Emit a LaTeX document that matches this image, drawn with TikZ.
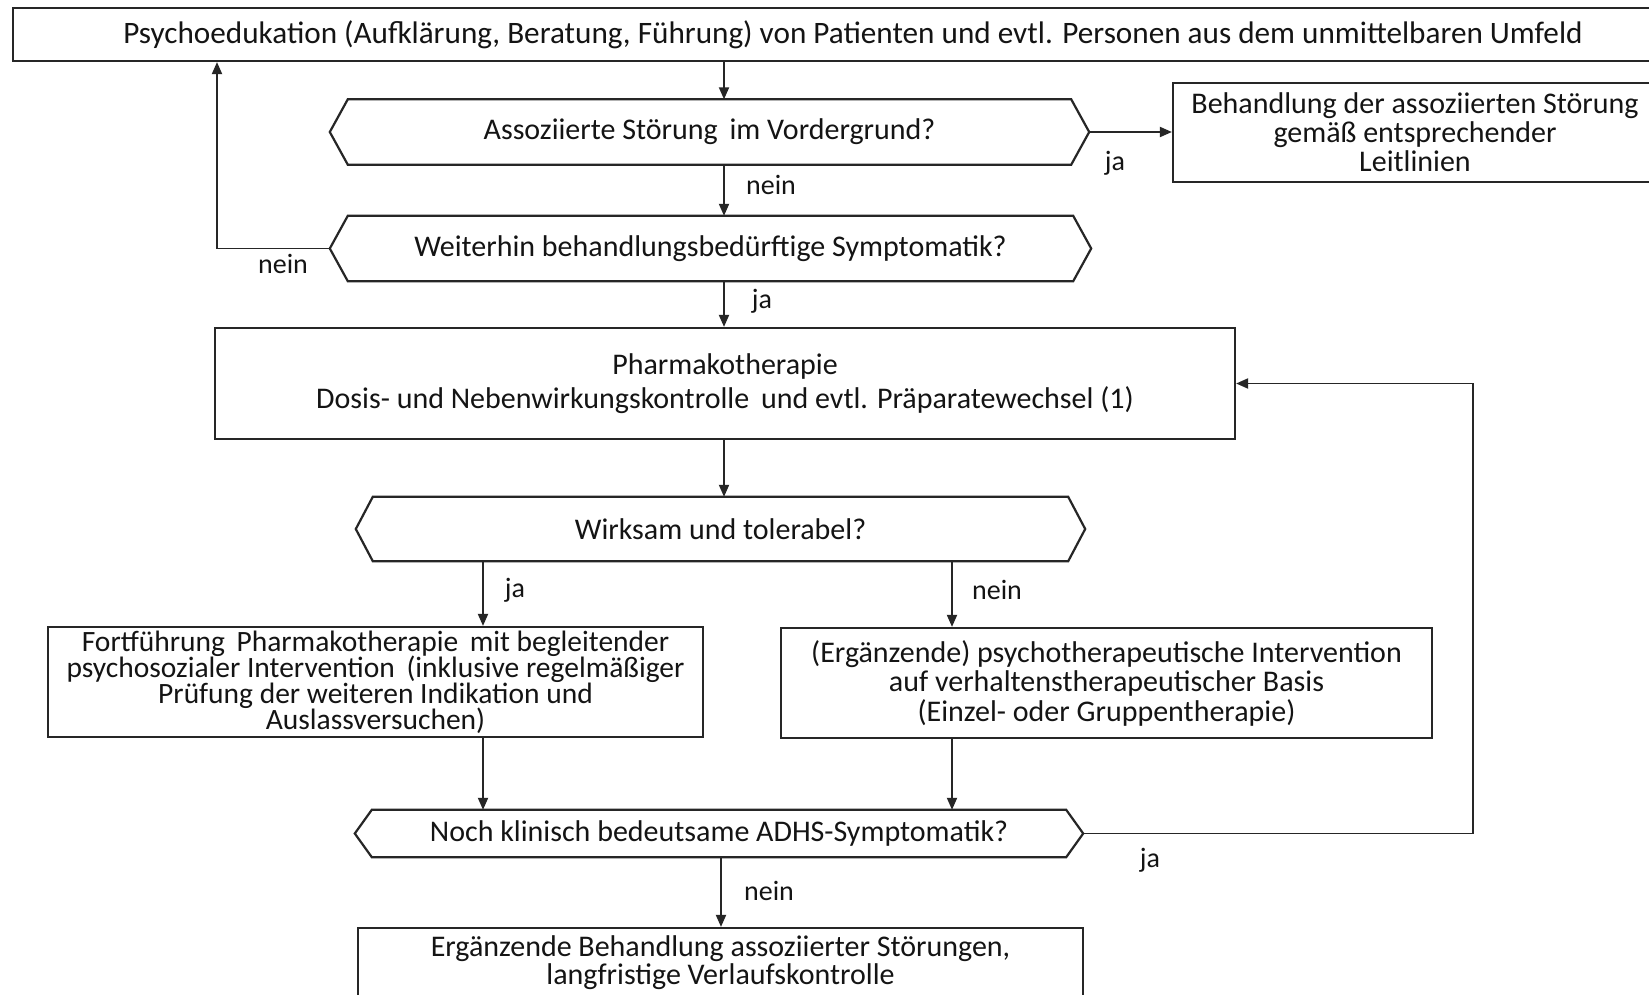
\documentclass[tikz,border=0pt]{standalone}
\usepackage{fontspec}
\setmainfont{Carlito}
\usetikzlibrary{arrows.meta,calc}
\definecolor{lc}{HTML}{262626}
\definecolor{tc}{HTML}{141414}
\newcommand\hexdraw[2]{\draw[line width=2.2pt, draw=lc] (#1.west) -- ($(#1.north west)+(#2,0)$) -- ($(#1.north east)+(-#2,0)$) -- (#1.east) -- ($(#1.south east)+(-#2,0)$) -- ($(#1.south west)+(#2,0)$) -- cycle;}
\newcommand\tightlines{\lineskiplimit-100pt\relax}
\tikzset{
  box/.style={draw=lc, line width=2.2pt, rectangle, align=center, inner sep=0pt, text=tc},
  dec/.style={rectangle, inner sep=0pt, align=center, text=tc, font=\fontsize{30}{30}\selectfont},
  conn/.style={draw=lc, line width=1.9pt, -{Triangle[length=12pt,width=10pt]}},
  lbl/.style={font=\fontsize{28}{28}\selectfont, text=tc, inner sep=0pt}
}
\begin{document}
\begin{tikzpicture}[x=1pt,y=-1pt]
\useasboundingbox (0,0) rectangle (1649,995);
\clip (0,0) rectangle (1649,995);
\fill[white] (0,0) rectangle (1649,995);

% columns
\coordinate (colA) at (724,0);
\coordinate (colL) at (217,0);
\coordinate (colB) at (483,0);
\coordinate (colC) at (952,0);
\coordinate (colD) at (721,0);
\coordinate (colR) at (1473,0);

% boxes
\node[box, minimum width=1680pt, minimum height=53pt, font=\fontsize{31.2}{31}\selectfont] (psy) at (853,34.5) {Psychoedukation (Aufklärung, Beratung, Führung) von Patienten und evtl. Personen aus dem unmittelbaren Umfeld};

\node[dec, minimum width=759pt, minimum height=65pt] (d1) at (709.5,132) {Assoziierte Störung\, im Vordergrund?};
\hexdraw{d1}{18}

\node[box, minimum width=484pt, minimum height=99pt, font=\fontsize{30}{29}\selectfont] (beh) at (1415,132.5) {Behandlung der assoziierten Störung\\gemäß entsprechender\\Leitlinien};

\node[dec, minimum width=761pt, minimum height=65pt] (d2) at (710.5,248.5) {Weiterhin behandlungsbedürftige Symptomatik?};
\hexdraw{d2}{18}

\node[box, minimum width=1020pt, minimum height=111pt, font=\fontsize{30}{34}\selectfont] (pharma) at (725,383.5) {Pharmakotherapie\\Dosis- und Nebenwirkungskontrolle\, und evtl. Präparatewechsel (1)};

\node[dec, minimum width=729pt, minimum height=64pt] (d3) at (720.5,529) {Wirksam und tolerabel?};
\hexdraw{d3}{17}

\node[box, minimum width=655pt, minimum height=110pt, font={\fontsize{29.5}{26}\selectfont\tightlines}] (fort) at (375.5,682) {Fortführung\, Pharmakotherapie\, mit begleitender\\psychosozialer Intervention\, (inklusive regelmäßiger\\Prüfung der weiteren Indikation und\\Auslassversuchen)};

\node[box, minimum width=651pt, minimum height=110pt, font=\fontsize{30}{29.5}\selectfont] (erg) at (1106.5,683) {(Ergänzende) psychotherapeutische Intervention\\auf verhaltenstherapeutischer Basis\\(Einzel- oder Gruppentherapie)};

\node[dec, minimum width=728pt, minimum height=47pt] (d4) at (719,833.5) {Noch klinisch bedeutsame ADHS-Symptomatik?};
\hexdraw{d4}{17}

\node[box, minimum width=725pt, minimum height=70pt, font=\fontsize{30}{28}\selectfont] (bot) at (720.5,963) {Ergänzende Behandlung assoziierter Störungen,\\langfristige Verlaufskontrolle};

% connectors
\draw[conn] (colA |- psy.south) -- (colA |- d1.north);
\draw[conn] (colA |- d1.south) -- (colA |- d2.north);
\draw[conn] (d1.east) -- (d1.east -| beh.west);
\draw[conn] (d2.west) -- (d2.west -| colL) -- (colL |- psy.south);
\draw[conn] (colA |- d2.south) -- (colA |- pharma.north);
\draw[conn] (colA |- pharma.south) -- (colA |- d3.north);
\draw[conn] (colB |- d3.south) -- (colB |- fort.north);
\draw[conn] (colC |- d3.south) -- (colC |- erg.north);
\draw[conn] (colB |- fort.south) -- (colB |- d4.north);
\draw[conn] (colC |- erg.south) -- (colC |- d4.north);
\draw[conn] (colD |- d4.south) -- (colD |- bot.north);
\draw[conn] (d4.east) -- (d4.east -| colR) -- (colR |- pharma.east) -- (pharma.east);

% labels
\node[lbl] (l1) at (771,185) {nein};
\node[lbl] (l2) at (1115,163) {ja};
\node[lbl] (l3) at (283,264) {nein};
\node[lbl] (l4) at (762,301) {ja};
\node[lbl] (l5) at (515,590) {ja};
\node[lbl] (l6) at (997,590) {nein};
\node[lbl] (l7) at (1150,860) {ja};
\node[lbl] (l8) at (769,891) {nein};
\end{tikzpicture}
\end{document}
